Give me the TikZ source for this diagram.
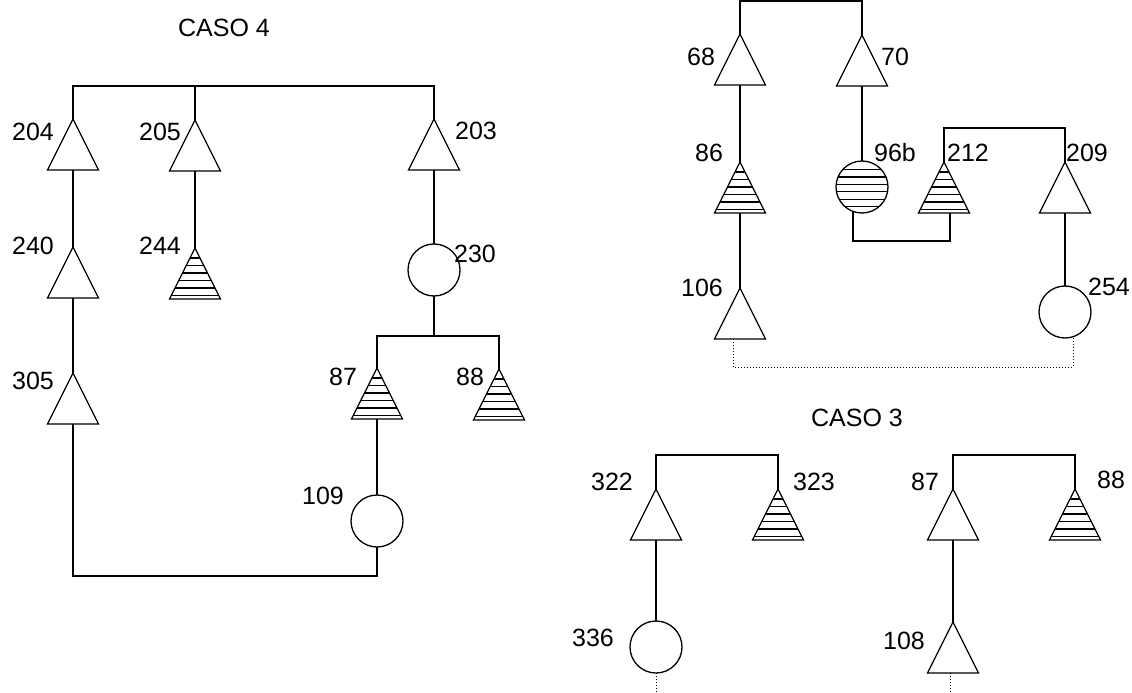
\documentclass[tikz,border=0pt]{standalone}
\usepackage{fontspec}
\setmainfont{Liberation Sans}
\usetikzlibrary{shapes.geometric}
\begin{document}
\begin{tikzpicture}[x=1pt,y=-1pt, line width=1.3pt,
  tri/.style={isosceles triangle, isosceles triangle stretches, shape border rotate=90,
    minimum width=51pt, minimum height=51pt, inner sep=0pt, outer sep=0pt, draw, anchor=apex},
  htri/.style={tri, path picture={\foreach \k in {0,...,5}{\draw[line width=1.3pt]
      ([yshift=3.5pt+7.5pt*\k]path picture bounding box.south west) --
      ([yshift=3.5pt+7.5pt*\k]path picture bounding box.south east);}}},
  circ/.style={circle, draw, minimum size=52pt, inner sep=0pt, outer sep=0pt},
  hcirc/.style={circ, path picture={\foreach \k in {1,...,6}{\draw[line width=1.3pt]
      ([yshift=7.4pt*\k-1pt]path picture bounding box.south west) --
      ([yshift=7.4pt*\k-1pt]path picture bounding box.south east);}}},
  lbl/.style={font=\fontsize{25}{30}\selectfont, inner sep=0pt},
  dotline/.style={line width=1pt, dash pattern=on 1pt off 2pt}
]
\useasboundingbox (0,0) rectangle (1132,693);

% ---------------- CASO 4 ----------------
\node[lbl] (t4) at (224,28) {CASO 4};
\node[tri]  (n204) at (73,119) {};
\node[tri]  (n205) at (195,120) {};
\node[tri]  (n203) at (434,119) {};
\node[tri]  (n240) at (73,247) {};
\node[htri] (n244) at (195,248) {};
\node[circ] (n230) at (434,270) {};
\node[tri]  (n305) at (73,373) {};
\node[htri] (n87a) at (377,368) {};
\node[htri] (n88a) at (499,369) {};
\node[circ] (n109) at (377,521) {};
\coordinate (bar4) at (0,86);
\coordinate (bar4b) at (0,336);
\coordinate (bot4) at (0,576);

\draw (n204.apex) -- (n204.apex |- bar4) -- (n203.apex |- bar4) -- (n203.apex);
\draw (n205.apex) -- (n205.apex |- bar4);
\draw (n204.south) -- (n240.apex);
\draw (n240.south) -- (n305.apex);
\draw (n205.south) -- (n244.apex);
\draw (n203.south) -- (n230.north);
\draw (n230.south) -- (n230.south |- bar4b);
\draw (n87a.apex) -- (n87a.apex |- bar4b) -- (n88a.apex |- bar4b) -- (n88a.apex);
\draw (n87a.south) -- (n109.north);
\draw (n305.south) -- (n305.south |- bot4) -- (n109.south |- bot4) -- (n109.south);

\node[lbl] (l204) at (33,132) {204};
\node[lbl] (l205) at (160,132) {205};
\node[lbl] (l203) at (476,131) {203};
\node[lbl] (l240) at (33,246) {240};
\node[lbl] (l244) at (160,246) {244};
\node[lbl] (l230) at (475,254) {230};
\node[lbl] (l305) at (33,381) {305};
\node[lbl] (l87a) at (343,377) {87};
\node[lbl] (l88a) at (470,377) {88};
\node[lbl] (l109) at (323,496) {109};

% ---------------- top right ----------------
\node[tri]   (n68)  at (740,34) {};
\node[tri]   (n70)  at (862,35) {};
\node[htri]  (n86)  at (740,162) {};
\node[hcirc] (n96b) at (862,187) {};
\node[htri]  (n212) at (944,162) {};
\node[tri]   (n209) at (1065,162) {};
\node[tri]   (n106) at (740,288) {};
\node[circ]  (n254) at (1065,312) {};
\coordinate (barT) at (0,1);
\coordinate (barR) at (0,128);
\coordinate (brk) at (0,241);
\coordinate (dotR) at (0,367);

\draw (n68.apex) -- (n68.apex |- barT) -- (n70.apex |- barT) -- (n70.apex);
\draw (n68.south) -- (n86.apex);
\draw (n70.south) -- (n96b.north);
\draw (n86.south) -- (n106.apex);
\draw (n212.apex) -- (n212.apex |- barR) -- (n209.apex |- barR) -- (n209.apex);
\draw (n96b.250) -- (n96b.250 |- brk) -- ([xshift=6pt]n212.south |- brk) -- ([xshift=6pt]n212.south);
\draw (n209.south) -- (n254.north);
\draw[dotline] ([xshift=-7pt]n106.south) -- ([xshift=-7pt]n106.south |- dotR) -| ([xshift=8pt]n254.south);

\node[lbl] (l68)  at (701,57) {68};
\node[lbl] (l70)  at (895,57) {70};
\node[lbl] (l86)  at (709,153) {86};
\node[lbl] (l96b) at (895,153) {96b};
\node[lbl] (l212) at (968,153) {212};
\node[lbl] (l209) at (1087,153) {209};
\node[lbl] (l106) at (702,288) {106};
\node[lbl] (l254) at (1109,287) {254};

% ---------------- CASO 3 ----------------
\node[lbl] (t3) at (857,418) {CASO 3};
\node[tri]  (n322) at (656,489) {};
\node[htri] (n323) at (778,489) {};
\node[tri]  (n87b) at (953,489) {};
\node[htri] (n88b) at (1075,489) {};
\node[circ] (n336) at (656,647) {};
\node[tri]  (n108) at (953,622) {};
\coordinate (bar3) at (0,455);
\coordinate (bot3) at (0,693);

\draw (n322.apex) -- (n322.apex |- bar3) -- (n323.apex |- bar3) -- (n323.apex);
\draw (n87b.apex) -- (n87b.apex |- bar3) -- (n88b.apex |- bar3) -- (n88b.apex);
\draw (n322.south) -- (n336.north);
\draw (n87b.south) -- (n108.apex);
\draw[dotline] (n336.south) -- (n336.south |- bot3);
\draw[dotline] ([xshift=-3pt]n108.south) -- ([xshift=-3pt]n108.south |- bot3);

\node[lbl] (l322) at (612,482) {322};
\node[lbl] (l323) at (814,482) {323};
\node[lbl] (l87b) at (925,482) {87};
\node[lbl] (l88b) at (1111,480) {88};
\node[lbl] (l336) at (593,638) {336};
\node[lbl] (l108) at (904,641) {108};
\end{tikzpicture}
\end{document}
